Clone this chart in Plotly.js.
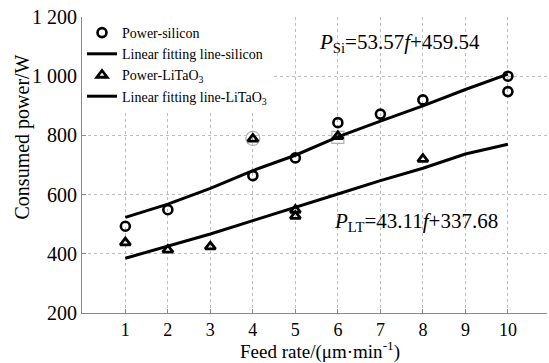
<!DOCTYPE html>
<html>
<head>
<meta charset="utf-8">
<script src="https://cdn.plot.ly/plotly-3.0.1.min.js"></script>
<style>html,body{margin:0;padding:0;background:#fff;}#chart{width:549px;height:363px;}</style>
</head>
<body>
<div id="chart"></div>
<script>
// Measured data
const siX = [1, 2, 4, 5, 6, 7, 8, 10, 10];
const siY = [493, 549, 664, 724, 843, 872, 920, 1000, 948];
const ltX = [1, 2, 3, 4, 5, 5, 6, 8];
const ltY = [438, 413, 424, 788, 548, 527, 797, 720];
// Fitting lines as drawn
const fitX = [1, 2, 3, 4, 5, 6, 7, 8, 9, 10];
const siFit = [523, 568, 621, 681, 733, 795, 848, 900, 955, 1007];
const ltFit = [385, 425, 467, 512, 558, 602, 647, 689, 737, 770];
// faint grey marks seen in the picture
const ghostCircleX = [4], ghostCircleY = [790];
const ghostSquareX = [6], ghostSquareY = [793];
const yTickVals = [200, 400, 600, 800, 1000, 1200];
const yTickText = ['200', '400', '600', '800', '1 000', '1 200'];
const xTickVals = [1, 2, 3, 4, 5, 6, 7, 8, 9, 10];

const FONT = 'Liberation Serif';

const traces = [
  {x: ghostCircleX, y: ghostCircleY, mode: 'markers', showlegend: false, hoverinfo: 'skip',
   marker: {symbol: 'circle-open', size: 14, color: '#b0b0b0', line: {width: 1.2, color: '#b0b0b0'}}},
  {x: ghostSquareX, y: ghostSquareY, mode: 'markers', showlegend: false, hoverinfo: 'skip',
   marker: {symbol: 'square-open', size: 12, color: '#b0b0b0', line: {width: 1.2, color: '#b0b0b0'}}},
  {x: siX, y: siY, mode: 'markers', name: 'Power-silicon',
   marker: {symbol: 'circle-open', size: 9, color: '#000', line: {width: 2.6, color: '#000'}}},
  {x: fitX, y: siFit, mode: 'lines', name: 'Linear fitting line-silicon',
   line: {color: '#000', width: 3}},
  {x: ltX, y: ltY, mode: 'markers', name: 'Power-LiTaO<sub>3</sub>',
   marker: {symbol: 'triangle-up-open', size: 9, color: '#000', line: {width: 2.8, color: '#000'}}},
  {x: fitX, y: ltFit, mode: 'lines', name: 'Linear fitting line-LiTaO<sub>3</sub>',
   line: {color: '#000', width: 3}}
];

const layout = {
  width: 549, height: 363,
  margin: {l: 82, r: 2, t: 17, b: 50},
  paper_bgcolor: '#fff', plot_bgcolor: '#fff',
  font: {family: FONT, color: '#000', size: 18},
  showlegend: true,
  legend: {x: 0, y: 1, xanchor: 'left', yanchor: 'top', bgcolor: '#fff', borderwidth: 0,
           traceorder: 'normal', font: {family: FONT, size: 14}, itemwidth: 30},
  xaxis: {range: [-0.02, 10.92], tickvals: xTickVals, ticktext: xTickVals.map(String),
          showgrid: true, gridcolor: '#bdbdbd', griddash: 'dot', gridwidth: 1,
          showline: true, linecolor: '#8a8a8a', linewidth: 1, mirror: false,
          ticks: 'inside', ticklen: 4, tickcolor: '#8a8a8a', zeroline: false,
          tickfont: {family: FONT, size: 18}},
  yaxis: {range: [200, 1200], tickvals: yTickVals, ticktext: yTickText,
          showgrid: true, gridcolor: '#bdbdbd', griddash: 'dot', gridwidth: 1,
          showline: true, linecolor: '#8a8a8a', linewidth: 1, mirror: false,
          ticks: 'inside', ticklen: 4, tickcolor: '#8a8a8a', zeroline: false,
          tickfont: {family: FONT, size: 20}},
  annotations: [
    {text: '<i>P</i><sub>Si</sub>=53.57<i>f</i>+459.54', x: 5.52, y: 1112, xref: 'x', yref: 'y',
     xanchor: 'left', yanchor: 'middle', showarrow: false, font: {family: FONT, size: 21}},
    {text: '<i>P</i><sub>LT</sub>=43.11<i>f</i>+337.68', x: 5.85, y: 507, xref: 'x', yref: 'y',
     xanchor: 'left', yanchor: 'middle', showarrow: false, font: {family: FONT, size: 21}},
    {text: 'Feed rate/(μm·min<sup>-1</sup>)', x: 0.512, y: -0.125, xref: 'paper', yref: 'paper',
     xanchor: 'center', yanchor: 'middle', showarrow: false, font: {family: FONT, size: 19}},
    {text: 'Consumed power/W', x: -0.129, y: 0.593, xref: 'paper', yref: 'paper', textangle: -90,
     xanchor: 'center', yanchor: 'middle', showarrow: false, font: {family: FONT, size: 20}}
  ]
};

Plotly.newPlot('chart', traces, layout, {displayModeBar: false, staticPlot: true});
</script>
</body>
</html>
